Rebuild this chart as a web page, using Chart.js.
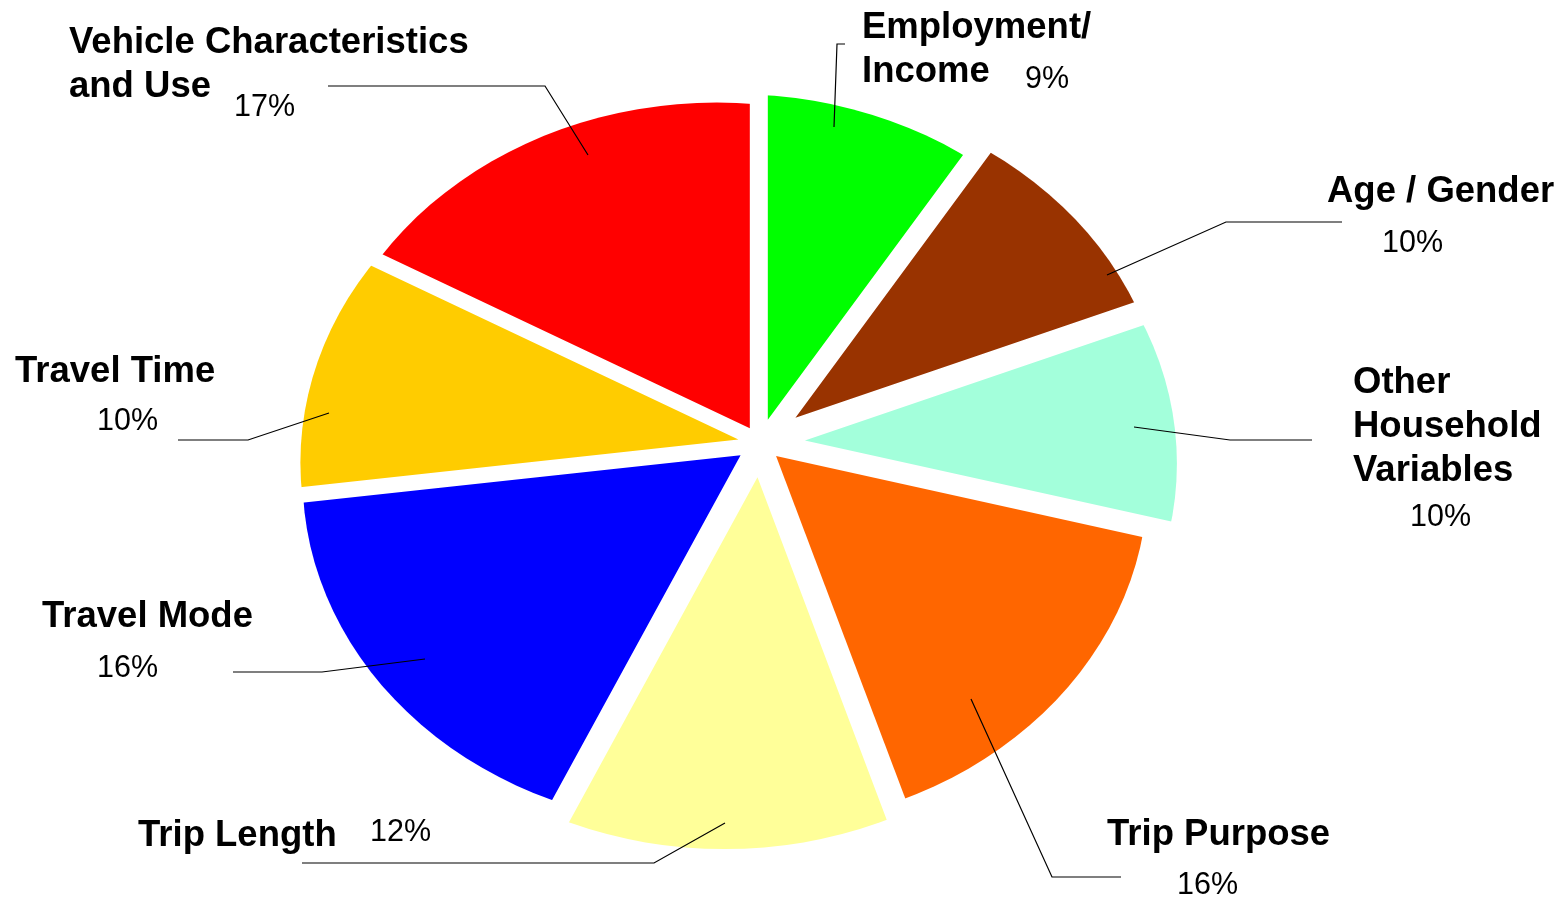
<!DOCTYPE html>
<html>
<head>
<meta charset="utf-8">
<title>Survey topics</title>
<script src="https://cdn.jsdelivr.net/npm/chart.js@4.4.0/dist/chart.umd.min.js"></script>
<style>
  html, body { margin: 0; padding: 0; background: #fff; }
  #wrap { width: 1556px; height: 898px; position: relative; }
</style>
</head>
<body>
<div id="wrap"><canvas id="pieChart" width="1556" height="898"></canvas></div>
<script>
// data, clockwise from 12 o'clock
var categories = ['Employment/ Income', 'Age / Gender', 'Other Household Variables', 'Trip Purpose',
                  'Trip Length', 'Travel Mode', 'Travel Time', 'Vehicle Characteristics and Use'];
var labelLines = [['Employment/', 'Income'], ['Age / Gender'], ['Other', 'Household', 'Variables'], ['Trip Purpose'],
                  ['Trip Length'], ['Travel Mode'], ['Travel Time'], ['Vehicle Characteristics', 'and Use']];
var shares = [9, 10, 10, 16, 12, 16, 10, 17];
var sliceColors = ['#00FF00', '#993300', '#A3FFDB', '#FF6600', '#FFFF99', '#0000FF', '#FFCC00', '#FF0000'];

// look of the tilted, exploded pie
var squash = 0.861;              // vertical / horizontal
var rimShift = {x: -33, y: 23};  // centre of the rim vs. the slice apex
var rimRadius = 405;
var explode = [28, 46, 45, 22, 40, 24, 22, 20];

// label placement: name (x, first baseline), percent, leader line
var labelPos = [
  {x: 862, y: 38, px: 1025, py: 88, line: [[834,127],[837,44],[845,44]]},
  {x: 1327, y: 202, px: 1382, py: 252, line: [[1107,275],[1226,222],[1342,222]]},
  {x: 1353, y: 393, px: 1410, py: 526, line: [[1134,427],[1230,440],[1312,440]]},
  {x: 1107, y: 845, px: 1177, py: 894, line: [[971,699],[1052,877],[1121,877]]},
  {x: 138, y: 846, px: 370, py: 841, line: [[725,823],[654,863],[302,863]]},
  {x: 42, y: 627, px: 97, py: 677, line: [[425,659],[322,672],[233,672]]},
  {x: 15, y: 382, px: 97, py: 430, line: [[329,413],[248,440],[178,440]]},
  {x: 69, y: 53, px: 234, py: 116, line: [[588,155],[545,86],[328,86]]}
];

var slantPie = {
  id: 'slantPie',
  beforeDatasetsDraw: function(chart) {
    var ctx = chart.ctx;
    var arcs = chart.getDatasetMeta(0).data;
    arcs.forEach(function(arc, i) {
      var mid = (arc.startAngle + arc.endAngle) / 2;
      ctx.save();
      ctx.translate(arc.x, arc.y);
      ctx.scale(1, squash);
      ctx.translate(Math.cos(mid) * explode[i], Math.sin(mid) * explode[i]);
      ctx.beginPath();
      ctx.arc(rimShift.x, rimShift.y / squash, rimRadius, 0, Math.PI * 2);
      ctx.clip();
      ctx.translate(-arc.x, -arc.y);
      arc.draw(ctx);
      ctx.restore();
    });
    return false;
  }
};

var pieLabels = {
  id: 'pieLabels',
  afterDraw: function(chart) {
    var ctx = chart.ctx;
    ctx.save();
    ctx.strokeStyle = '#000';
    ctx.lineWidth = 1.2;
    ctx.fillStyle = '#000';
    ctx.textBaseline = 'alphabetic';
    labelPos.forEach(function(p, i) {
      ctx.beginPath();
      p.line.forEach(function(pt, j) {
        if (j) ctx.lineTo(pt[0], pt[1]); else ctx.moveTo(pt[0], pt[1]);
      });
      ctx.stroke();
      ctx.font = 'bold 36.5px "Liberation Sans", Arial, sans-serif';
      labelLines[i].forEach(function(t, j) { ctx.fillText(t, p.x, p.y + j * 44); });
      ctx.font = '30.5px "Liberation Sans", Arial, sans-serif';
      ctx.fillText(shares[i] + '%', p.px, p.py);
    });
    ctx.restore();
  }
};

new Chart(document.getElementById('pieChart'), {
  type: 'pie',
  data: {
    labels: categories,
    datasets: [{
      data: shares,
      backgroundColor: sliceColors,
      borderWidth: 0,
      radius: 1200
    }]
  },
  options: {
    responsive: false,
    animation: false,
    events: [],
    radius: 1200,
    layout: { padding: { left: 0, right: 36, top: 0, bottom: 12 } },
    plugins: { legend: { display: false }, tooltip: { enabled: false } }
  },
  plugins: [slantPie, pieLabels]
});
</script>
</body>
</html>
